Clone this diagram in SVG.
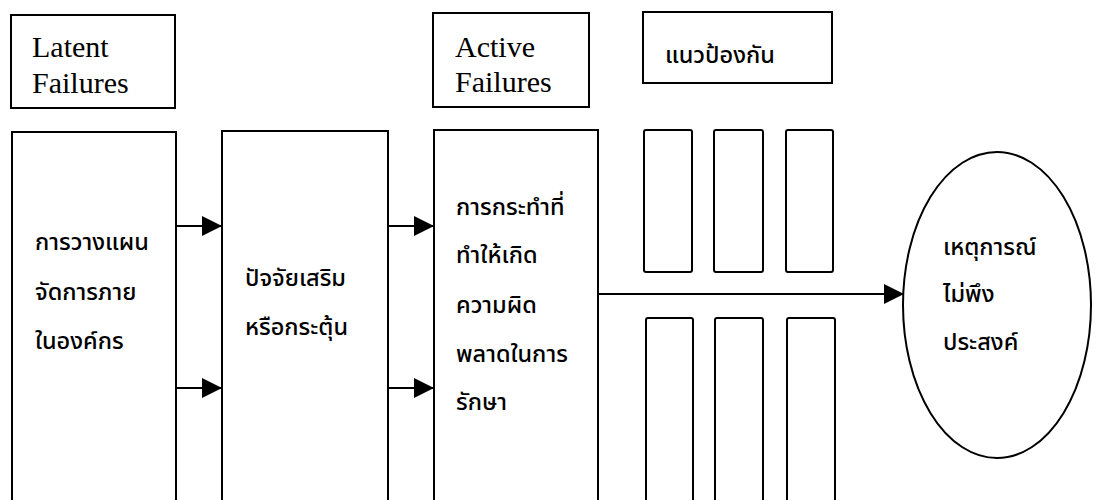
<svg xmlns="http://www.w3.org/2000/svg" width="1099" height="500" viewBox="0 0 1099 500">
<style>
.box{fill:#fff;stroke:#000;stroke-width:2}
.bar{fill:#fff;stroke:#000;stroke-width:2}
.en{font-family:"Liberation Serif","Times New Roman",serif;font-size:30px;fill:#000}
.th{font-family:"Noto Sans Thai","Noto Sans","DejaVu Sans",sans-serif;font-size:23.5px;font-weight:500;fill:#000}
.conn{stroke:#000;stroke-width:2;fill:none}
</style>
<defs>
<marker id="ah" markerWidth="20" markerHeight="20" viewBox="0 0 20 20" refX="20" refY="10" markerUnits="userSpaceOnUse" orient="auto">
<path d="M0,0 L20,10 L0,20 Z" fill="#000"/>
</marker>
</defs>
<rect width="1099" height="500" fill="#fff"/>
<g id="latent-label">
<rect class="box" x="11" y="15" width="164" height="93"/>
<text class="en" x="32" y="57">Latent</text>
<text class="en" x="32" y="93">Failures</text>
</g>
<g id="active-label">
<rect class="box" x="433" y="13" width="156" height="94"/>
<text class="en" x="455" y="57">Active</text>
<text class="en" x="455" y="92">Failures</text>
</g>
<g id="defense-label">
<rect class="box" x="643" y="12" width="189" height="71"/>
<text class="th" x="665" y="63">แนวป้องกัน</text>
</g>
<g id="planning">
<rect class="box" x="12" y="132" width="164" height="380"/>
<text class="th" x="35" y="250">การวางแผน</text>
<text class="th" x="35" y="300">จัดการภาย</text>
<text class="th" x="35" y="349">ในองค์กร</text>
</g>
<g id="factors">
<rect class="box" x="222" y="131" width="166" height="380"/>
<text class="th" x="245" y="286">ปัจจัยเสริม</text>
<text class="th" x="245" y="335">หรือกระตุ้น</text>
</g>
<g id="actions">
<rect class="box" x="434" y="130" width="164" height="380"/>
<text class="th" x="456" y="215">การกระทำที่</text>
<text class="th" x="456" y="263">ทำให้เกิด</text>
<text class="th" x="456" y="313">ความผิด</text>
<text class="th" x="456" y="362">พลาดในการ</text>
<text class="th" x="456" y="410">รักษา</text>
</g>
<g id="defenses">
<rect class="bar" x="644" y="130" width="48" height="142" rx="2"/>
<rect class="bar" x="714" y="130" width="49" height="142" rx="2"/>
<rect class="bar" x="786" y="130" width="47" height="142" rx="2"/>
<rect class="bar" x="646" y="318" width="47" height="200" rx="2"/>
<rect class="bar" x="715" y="318" width="48" height="200" rx="2"/>
<rect class="bar" x="787" y="318" width="48" height="200" rx="2"/>
</g>
<g id="outcome">
<ellipse cx="997" cy="305" rx="94" ry="153" fill="#fff" stroke="#000" stroke-width="2"/>
<text class="th" x="943" y="255">เหตุการณ์</text>
<text class="th" x="943" y="302">ไม่พึง</text>
<text class="th" x="943" y="350">ประสงค์</text>
</g>
<g id="connectors">
<line class="conn" x1="176" y1="226" x2="222" y2="226" marker-end="url(#ah)"/>
<line class="conn" x1="176" y1="388" x2="222" y2="388" marker-end="url(#ah)"/>
<line class="conn" x1="388" y1="226" x2="434" y2="226" marker-end="url(#ah)"/>
<line class="conn" x1="388" y1="388" x2="434" y2="388" marker-end="url(#ah)"/>
<line class="conn" x1="598" y1="294" x2="904" y2="294" marker-end="url(#ah)"/>
</g>
</svg>
